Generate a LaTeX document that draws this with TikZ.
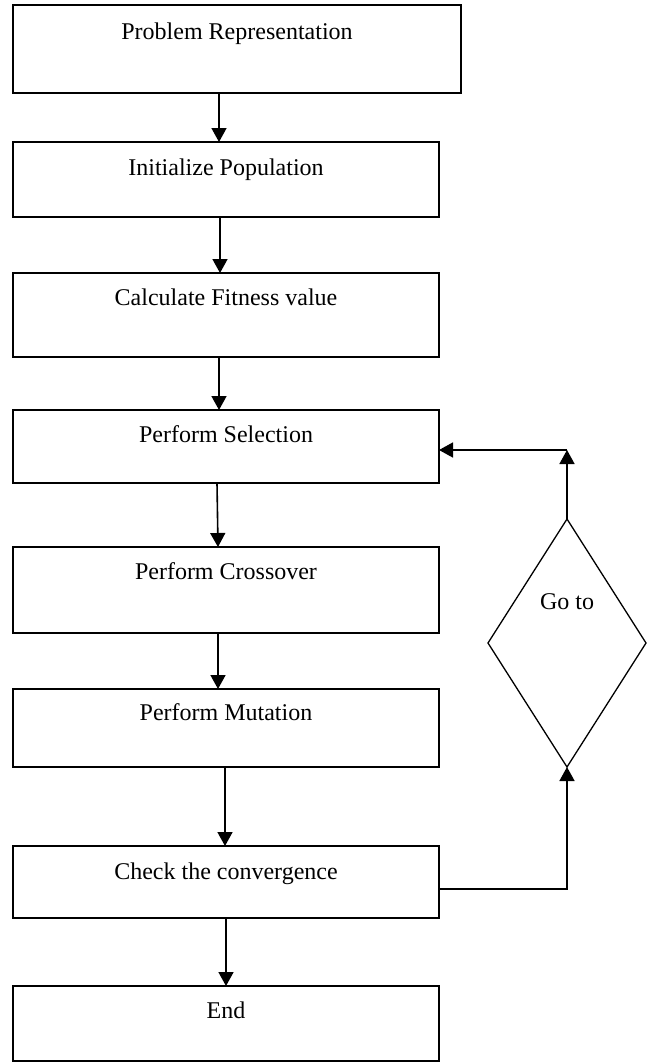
\documentclass[tikz,border=0pt]{standalone}
\usepackage{fontspec}
\setmainfont{Liberation Serif}
\usetikzlibrary{arrows.meta,shapes.geometric}
\begin{document}
\begin{tikzpicture}[x=1pt,y=1pt,
  stepbox/.style={draw, line width=1.8pt, inner sep=0pt, outer sep=0pt, anchor=north west,
    minimum width=426pt, font=\fontsize{24}{28}\selectfont},
  arr/.style={line width=1.6pt, -{Triangle[width=15pt,length=14pt]}},
  gobox/.style={draw, diamond, line width=1.3pt, inner sep=0pt, outer sep=0pt,
    minimum width=158pt, minimum height=248pt, font=\fontsize{24}{28}\selectfont}]
\useasboundingbox (0,0) rectangle (650,-1063);
\node[stepbox, minimum width=448pt, text height=34pt, text depth=54pt] (b1) at (13,-5) {Problem Representation};
\node[stepbox, text height=33pt, text depth=42pt] (b2) at (13,-142) {Initialize Population};
\node[stepbox, text height=32pt, text depth=52pt] (b3) at (13,-273) {Calculate Fitness value};
\node[stepbox, text height=32pt, text depth=41pt] (b4) at (13,-410) {Perform Selection};
\node[stepbox, text height=32pt, text depth=54pt] (b5) at (13,-547) {Perform Crossover};
\node[stepbox, text height=31pt, text depth=47pt] (b6) at (13,-689) {Perform Mutation};
\node[stepbox, text height=33pt, text depth=39pt] (b7) at (13,-846) {Check the convergence};
\node[stepbox, text height=32pt, text depth=43pt] (b8) at (13,-986) {End};
\node[gobox, text height=10pt, text depth=78pt] (d) at (567,-643) {Go to};
\coordinate (sel) at ([yshift=-3.5pt]b4.east);
\coordinate (c1) at (d.north |- sel);
\draw[arr] ([xshift=-18pt]b1.south) -- ([xshift=-7pt]b2.north);
\draw[arr] ([xshift=-6pt]b2.south) -- ([xshift=-6pt]b3.north);
\draw[arr] ([xshift=-7pt]b3.south) -- ([xshift=-7pt]b4.north);
\draw[arr] ([xshift=-9pt]b4.south) -- ([xshift=-8pt]b5.north);
\draw[arr] ([xshift=-8pt]b5.south) -- ([xshift=-8pt]b6.north);
\draw[arr] ([xshift=-1pt]b6.south) -- ([xshift=-1pt]b7.north);
\draw[arr] (b7.south) -- (b8.north);
\draw[arr] ([yshift=-7pt]b7.east) -| (d.south);
\draw[arr] (d.north) -- (c1);
\draw[arr] (c1) -- (sel);
\end{tikzpicture}
\end{document}
